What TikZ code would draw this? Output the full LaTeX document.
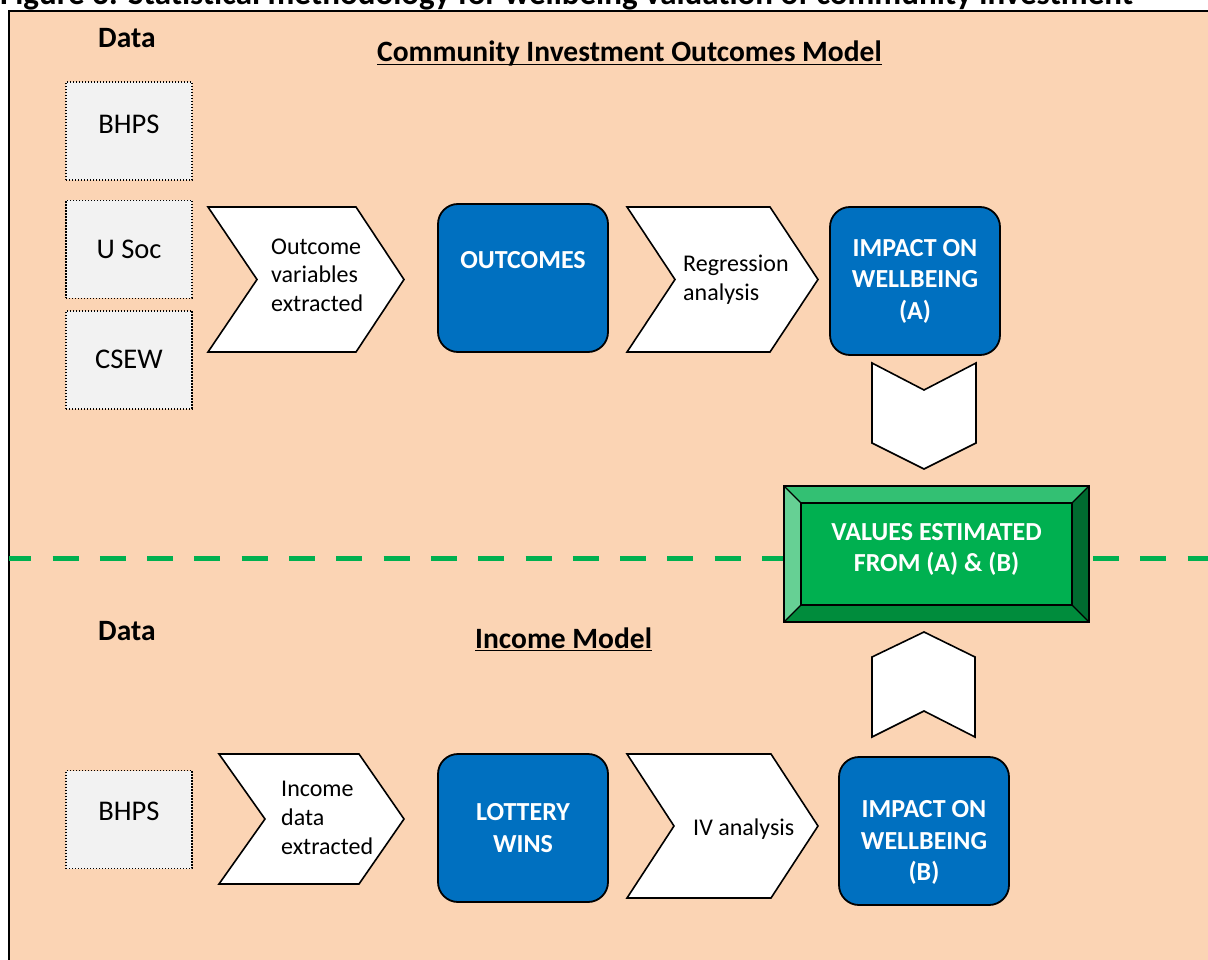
\documentclass[tikz,border=0pt]{standalone}
\usepackage{fontspec}
\setmainfont{Carlito}
\usepackage{tikz}
\usetikzlibrary{positioning}
\definecolor{peach}{HTML}{FBD4B4}
\definecolor{boxgrey}{HTML}{F2F2F2}
\definecolor{impblue}{HTML}{0070C0}
\definecolor{valgreen}{HTML}{00B050}
\definecolor{bevtop}{HTML}{33C073}
\definecolor{bevleft}{HTML}{66D094}
\definecolor{bevright}{HTML}{006B30}
\definecolor{bevbottom}{HTML}{008C3C}

\begin{document}
\begin{tikzpicture}[x=1pt,y=-1pt,
    databox/.style={draw, line width=1.4pt, dash pattern=on 1.4pt off 1.6pt, fill=boxgrey,
      minimum width=126pt, minimum height=98pt, inner sep=0pt, font=\fontsize{28.5}{33}\selectfont},
    chev/.style={draw, line width=1.6pt, fill=white, line join=miter},
    chevtext/.style={align=left, anchor=base west, inner sep=0pt, font=\fontsize{24}{29}\selectfont},
    bluebox/.style={draw, line width=1.8pt, fill=impblue, rounded corners=20pt, text=white,
      align=center, minimum width=170pt, minimum height=148pt, inner sep=0pt,
      font=\bfseries\fontsize{26}{31.5}\selectfont},
    heading/.style={anchor=base west, inner sep=0pt, font=\bfseries\fontsize{29.5}{34}\selectfont}]
    \useasboundingbox (0,0) rectangle (1208,960);
    \node[heading, font=\bfseries\fontsize{33}{38}\selectfont] (title) at (0,5) {Figure 3: Statistical methodology for wellbeing valuation of community investment};
    \draw[line width=2pt, fill=peach] (9,11) rectangle (1230,990);
    % dividing line
    \draw[valgreen, line width=5pt, dash pattern=on 26pt off 21.3pt, dash phase=3.8pt] (9,558) -- (1208,558);

    % community investment outcomes model
    \node[heading] (data1) at (98,48) {Data};
    \node[heading] (cimodel) at (377,62) {Community Investment Outcomes Model};
    \draw[line width=1.8pt] ([yshift=-2.5pt]cimodel.base west) -- ([yshift=-2.5pt]cimodel.base east);
    \node[databox, text depth=14pt] (bhps1) at (129,131) {BHPS};
    \node[databox, below=19pt of bhps1] (usoc) {U Soc};
    \node[databox, below=11pt of usoc] (csew) {CSEW};
    \draw[chev] (208,207) -- (356,207) -- (404,279.5) -- (356,352) -- (208,352) -- (257,279.5) -- cycle;
    \node[chevtext] (outvar) at (271,312) {Outcome\\variables\\extracted};
    \node[bluebox, text depth=36pt] (outcomes) at (523,278) {OUTCOMES};
    \draw[chev] (627,207) -- (770,207) -- (818,279.5) -- (770,352) -- (627,352) -- (675,279.5) -- cycle;
    \node[chevtext] (regr) at (683,301) {Regression\\analysis};
    \node[bluebox] (impacta) at (915,281) {IMPACT ON\\WELLBEING\\(A)};
    \draw[chev] (872,363) -- (924,390) -- (976,363) -- (976,443) -- (924,469) -- (872,443) -- cycle;

    % values
    \node[fill=valgreen, minimum width=305pt, minimum height=136pt, inner sep=0pt, text=white,
      align=center, text depth=13pt, font=\bfseries\fontsize{26}{31.5}\selectfont]
      (values) at (936.5,554) {VALUES ESTIMATED\\FROM (A) \& (B)};
    \fill[bevtop] (values.north west) -- (values.north east) -- ([shift={(-17,17)}]values.north east)
      -- ([shift={(17,17)}]values.north west) -- cycle;
    \fill[bevleft] (values.north west) -- ([shift={(17,17)}]values.north west)
      -- ([shift={(17,-17)}]values.south west) -- (values.south west) -- cycle;
    \fill[bevright] (values.north east) -- ([shift={(-17,17)}]values.north east)
      -- ([shift={(-17,-17)}]values.south east) -- (values.south east) -- cycle;
    \fill[bevbottom] (values.south west) -- ([shift={(17,-17)}]values.south west)
      -- ([shift={(-17,-17)}]values.south east) -- (values.south east) -- cycle;
    \draw[line width=1.6pt] (values.north west) rectangle (values.south east);
    \draw[line width=1.6pt] ([shift={(17,17)}]values.north west) rectangle ([shift={(-17,-17)}]values.south east);
    \draw[line width=1.2pt] (values.north west) -- ([shift={(17,17)}]values.north west);
    \draw[line width=1.2pt] (values.north east) -- ([shift={(-17,17)}]values.north east);
    \draw[line width=1.2pt] (values.south west) -- ([shift={(17,-17)}]values.south west);
    \draw[line width=1.2pt] (values.south east) -- ([shift={(-17,-17)}]values.south east);

    % income model
    \node[heading] (data2) at (98,640) {Data};
    \node[heading] (incmodel) at (475,648) {Income Model};
    \draw[line width=1.8pt] ([yshift=-2.5pt]incmodel.base west) -- ([yshift=-2.5pt]incmodel.base east);
    \draw[chev] (872,657) -- (924,632) -- (975,657) -- (975,737) -- (924,711) -- (872,737) -- cycle;
    \node[databox, text depth=17pt] (bhps2) at (129,819.5) {BHPS};
    \draw[chev] (219,754) -- (359,754) -- (404,819) -- (359,884) -- (219,884) -- (265,819) -- cycle;
    \node[chevtext] (incdata) at (281,854) {Income\\data\\extracted};
    \node[bluebox] (lottery) at (523,828) {LOTTERY\\WINS};
    \draw[chev] (627,754) -- (771,754) -- (818,826) -- (771,898) -- (627,898) -- (674,826) -- cycle;
    \node[chevtext] (ivan) at (693,835) {IV analysis};
    \node[bluebox, text height=103pt] (impactb) at (924,831) {IMPACT ON\\WELLBEING\\(B)};
  \end{tikzpicture}
\end{document}
